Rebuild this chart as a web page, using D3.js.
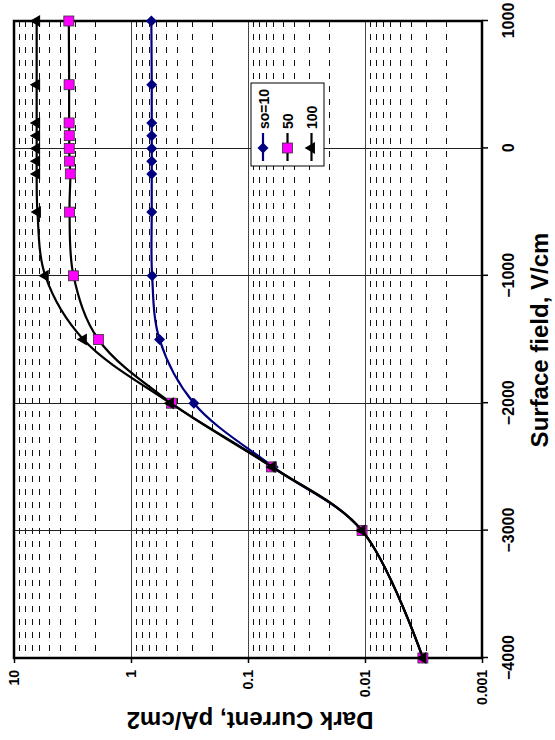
<!DOCTYPE html>
<html>
<head>
<meta charset="utf-8">
<script src="https://cdn.jsdelivr.net/npm/d3@7"></script>
<style>
    html, body { margin: 0; padding: 0; background: #fff; }
    #svgContainer { width: 555px; height: 740px; }
    text { font-family: Arial, "Liberation Sans", sans-serif; font-weight: bold; }
</style>
</head>
<body>
<div id="svgContainer"></div>
<script>
// surface field, V/cm
const field = [-4000, -3000, -2500, -2000, -1500, -1000, -500, -200, -100, 0, 100, 200, 500, 1000];
// dark current, pA/cm2, one list per so value
const currentSo10 = [0.0032, 0.0106, 0.061, 0.29, 0.57, 0.66, 0.665, 0.665, 0.665, 0.665, 0.665, 0.665, 0.665, 0.67];
const currentSo50 = [0.0032, 0.0106, 0.063, 0.45, 1.9, 3.1, 3.35, 3.3, 3.35, 3.37, 3.37, 3.38, 3.38, 3.4];
const currentSo100 = [0.0032, 0.0106, 0.062, 0.46, 2.55, 5.4, 6.3, 6.4, 6.4, 6.4, 6.4, 6.4, 6.4, 6.4];
const seriesNames = ["so=10", "50", "100"];
const fieldTicks = [-4000, -3000, -2000, -1000, 0, 1000];
const currentTicks = [10, 1, 0.1, 0.01, 0.001];
const currentTickLabels = ["10", "1", "0.1", "0.01", "0.001"];

class DarkCurrentChart {

    constructor(container) {
        this._SVG(container)
            ._scales()
            ._grid()
            ._axes()
            ._series()
            ._legend();
    }

    _SVG(container) {
        this._svg = d3.select("#" + container).append("svg")
            .attr("width", 555)
            .attr("height", 740)
            .style("display", "block");
        // chart is drawn upright, then turned a quarter turn counter-clockwise
        this._W = 637;
        this._H = 468;
        this._g = this._svg.append("g")
            .attr("transform", "translate(14,658) rotate(-90)");
        return this;
    }

    _scales() {
        this._x = d3.scaleLinear().domain([-4000, 1000]).range([0, this._W]);
        this._y = d3.scaleLog().domain([0.001, 10]).range([this._H, 0]);
        return this;
    }

    _grid() {
        const g = this._g.append("g").attr("shape-rendering", "crispEdges");
        const minor = [];
        [0.001, 0.01, 0.1, 1].forEach(d => {
            for (let k = 2; k <= 9; k++) minor.push(d * k);
        });

        g.selectAll(".minor")
            .data(minor)
            .enter().append("line")
            .attr("x1", this._W).attr("x2", 0)
            .attr("y1", d => this._y(d)).attr("y2", d => this._y(d))
            .attr("stroke", "#111")
            .attr("stroke-width", 1)
            .attr("stroke-dasharray", "6,7");

        g.selectAll(".major")
            .data([1, 0.1, 0.01])
            .enter().append("line")
            .attr("x1", 0).attr("x2", this._W)
            .attr("y1", d => this._y(d)).attr("y2", d => this._y(d))
            .attr("stroke", "#444")
            .attr("stroke-width", 1);

        g.selectAll(".vert")
            .data(fieldTicks.slice(1, -1))
            .enter().append("line")
            .attr("x1", d => this._x(d)).attr("x2", d => this._x(d))
            .attr("y1", 0).attr("y2", this._H)
            .attr("stroke", "#222")
            .attr("stroke-width", 1);

        this._g.append("rect")
            .attr("width", this._W)
            .attr("height", this._H)
            .attr("fill", "none")
            .attr("stroke", "#000")
            .attr("stroke-width", 2.5);
        return this;
    }

    _axes() {
        const xAxis = this._g.append("g")
            .attr("transform", "translate(0," + this._H + ")")
            .call(d3.axisBottom(this._x)
                .tickValues(fieldTicks)
                .tickFormat(d3.format("d"))
                .tickSize(6)
                .tickPadding(15));
        xAxis.selectAll("text").attr("font-size", 16).attr("font-family", null).attr("fill", "#000");

        const yAxis = this._g.append("g")
            .call(d3.axisLeft(this._y)
                .tickValues(currentTicks)
                .tickFormat((d, i) => currentTickLabels[i])
                .tickSize(5)
                .tickPadding(7));
        yAxis.selectAll("text").attr("font-size", 14).attr("font-family", null).attr("fill", "#000");

        [xAxis, yAxis].forEach(a => {
            a.select(".domain").remove();
            a.selectAll("line").attr("stroke", "#000").attr("stroke-width", 1.5);
        });

        this._svg.append("text")
            .attr("transform", "translate(250,712) rotate(180)")
            .attr("text-anchor", "middle")
            .attr("font-size", 24)
            .text("Dark Current, pA/cm2");

        this._svg.append("text")
            .attr("transform", "translate(548,340) rotate(-90)")
            .attr("text-anchor", "middle")
            .attr("font-size", 24)
            .text("Surface field, V/cm");
        return this;
    }

    _marker(sel, i) {
        if (i === 0) {
            sel.append("path")
                .attr("d", "M0,-5.5L5.5,0L0,5.5L-5.5,0Z")
                .attr("fill", "#000080");
        } else if (i === 1) {
            sel.append("rect")
                .attr("x", -5).attr("y", -5)
                .attr("width", 10).attr("height", 10)
                .attr("fill", "#ff00ff")
                .attr("stroke", "#333")
                .attr("stroke-width", 0.8);
        } else {
            sel.append("path")
                .attr("d", d3.symbol(d3.symbolTriangle, 62)())
                .attr("fill", "#000");
        }
    }

    _series() {
        const all = [currentSo10, currentSo50, currentSo100];
        const colors = ["#000080", "#000", "#000"];
        const line = d3.line()
            .x(d => this._x(d[0]))
            .y(d => this._y(d[1]))
            .curve(d3.curveCatmullRom.alpha(0.5));

        all.forEach((vals, i) => {
            const pts = field.map((f, j) => [f, vals[j]]);
            const s = this._g.append("g");
            s.append("path")
                .attr("d", line(pts))
                .attr("fill", "none")
                .attr("stroke", colors[i])
                .attr("stroke-width", 2.2);
            s.selectAll("g")
                .data(pts)
                .enter().append("g")
                .attr("transform", d => "translate(" + this._x(d[0]) + "," + this._y(d[1]) + ")")
                .each((d, j, nodes) => this._marker(d3.select(nodes[j]), i));
        });
        return this;
    }

    _legend() {
        const lg = this._svg.append("g");
        lg.append("rect")
            .attr("x", 251).attr("y", 83)
            .attr("width", 73).attr("height", 83)
            .attr("fill", "#fff")
            .attr("stroke", "#000")
            .attr("stroke-width", 1);
        const cx = [263, 287.5, 311.5];
        const colors = ["#000080", "#000", "#000"];
        seriesNames.forEach((name, i) => {
            const e = lg.append("g");
            e.append("line")
                .attr("x1", cx[i]).attr("x2", cx[i])
                .attr("y1", 133).attr("y2", 161)
                .attr("stroke", colors[i])
                .attr("stroke-width", 2.2);
            const m = e.append("g")
                .attr("transform", "translate(" + cx[i] + ",148) rotate(-90)");
            this._marker(m, i);
            e.append("text")
                .attr("transform", "translate(" + (cx[i] + 5.5) + ",129) rotate(-90)")
                .attr("font-size", 14)
                .text(name);
        });
        return this;
    }
}

new DarkCurrentChart("svgContainer");
</script>
</body>
</html>
